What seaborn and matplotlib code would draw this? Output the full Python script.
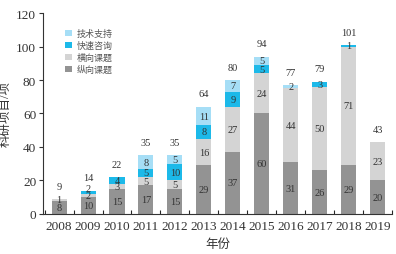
import numpy as np
import pandas as pd
import seaborn as sns
import matplotlib.pyplot as plt
from matplotlib.ticker import FixedLocator

# data
years = ["2008", "2009", "2010", "2011", "2012", "2013", "2014", "2015", "2016", "2017", "2018", "2019"]
zongxiang = [8, 10, 15, 17, 15, 29, 37, 60, 31, 26, 29, 20]
hengxiang = [1, 2, 3, 5, 5, 16, 27, 24, 44, 50, 71, 23]
kuaisu = [0, 2, 4, 5, 10, 8, 9, 5, 0, 3, 1, 0]
jishu = [0, 0, 0, 8, 5, 11, 7, 5, 2, 0, 0, 0]
totals = [9, 14, 22, 35, 35, 64, 80, 94, 77, 79, 101, 43]

names = ["纵向课题", "横向课题", "快速咨询", "技术支持"]
series = [zongxiang, hengxiang, kuaisu, jishu]
colors = ["#939393", "#d4d4d4", "#1cb9e9", "#a6def6"]

sns.set_style("ticks")
plt.rcParams['font.family'] = ['Liberation Serif', 'Noto Sans CJK SC']

fig = plt.figure(figsize=(3.96, 2.55), dpi=100)
ax = fig.add_axes([0.109, 0.157, 0.881, 0.788])

bottom = np.zeros(len(years))
prev = np.zeros(len(years))
for name, vals, c in zip(names, series, colors):
    sns.barplot(x=years, y=vals, bottom=bottom, color=c, saturation=1,
                width=0.52, errorbar=None, label=name, ax=ax, linewidth=0)
    # segment labels; thin segments stacked on thin ones get lifted a bit
    for i, v in enumerate(vals):
        if v > 0:
            y = bottom[i] + v / 2
            if v <= 2 and 0 < prev[i] <= 2:
                y += 2
            ax.text(i, y, str(v), ha="center", va="center",
                    fontsize=7.5, color="#333333")
    prev = np.array(vals)
    bottom = bottom + np.array(vals)

for i, t in enumerate(totals):
    ax.annotate(str(t), (i, bottom[i]), xytext=(0, 6), textcoords="offset points",
                ha="center", va="bottom", fontsize=7.5, color="#333333")

ax.set_ylim(0, 120)
ax.set_xlim(-0.55, 11.5)
ax.set_yticks([0, 20, 40, 60, 80, 100, 120])
ax.tick_params(axis="y", labelsize=9.5, length=3, width=0.8, direction="out", pad=2, colors="#333333")
ax.tick_params(axis="x", which="major", labelsize=9.5, length=0, pad=4, colors="#333333")
ax.xaxis.set_minor_locator(FixedLocator(np.arange(-0.5, 12, 1)))
ax.tick_params(axis="x", which="minor", length=3, direction="in", width=0.8)
sns.despine(ax=ax)
for s in ["left", "bottom"]:
    ax.spines[s].set_color("#333333")
    ax.spines[s].set_linewidth(0.8)

ax.set_ylabel("科研项目/项", fontsize=9, color="#333333", labelpad=3)
ax.set_xlabel("年份", fontsize=9, color="#333333", labelpad=5)

h, l = ax.get_legend_handles_labels()
ax.legend(h[::-1], l[::-1], loc="upper left", bbox_to_anchor=(0.04, 0.96), frameon=False,
          fontsize=6.5, handlelength=0.7, handleheight=0.7, handletextpad=0.6,
          labelspacing=0.3, labelcolor="#555555")

plt.savefig("out.png", dpi=100)
